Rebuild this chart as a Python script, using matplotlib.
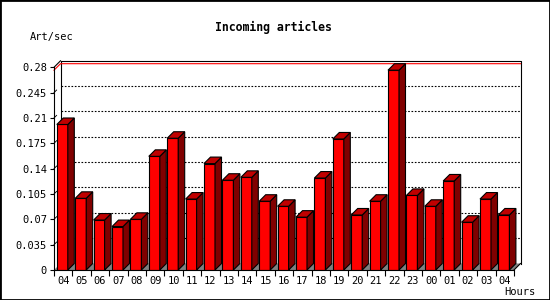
import matplotlib
matplotlib.use("Agg")
import matplotlib.pyplot as plt
from matplotlib.patches import Polygon, Rectangle

# hours on the x axis and incoming rate per hour
hours = ["04", "05", "06", "07", "08", "09", "10", "11", "12", "13", "14", "15", "16",
         "17", "18", "19", "20", "21", "22", "23", "00", "01", "02", "03", "04"]
rates = [0.201, 0.099, 0.069, 0.060, 0.070, 0.157, 0.182, 0.098, 0.147, 0.124, 0.128, 0.095, 0.088,
         0.073, 0.127, 0.181, 0.076, 0.095, 0.276, 0.103, 0.088, 0.123, 0.066, 0.098, 0.076]
yticks = [0, 0.035, 0.07, 0.105, 0.14, 0.175, 0.21, 0.245, 0.28]
ytick_labels = ["0", "0.035", "0.07", "0.105", "0.14", "0.175", "0.21", "0.245", "0.28"]

W, H = 550, 300
fig = plt.figure(figsize=(W / 100, H / 100), dpi=100)
fig.patch.set_facecolor("white")

# front plane of the 3d box, in pixels
left_px, right_px, bottom_px, top_px = 54, 514, 270, 67.3
ax = fig.add_axes([left_px / W, (H - bottom_px) / H,
                   (right_px - left_px) / W, (bottom_px - top_px) / H])
n = len(rates)
ax.set_xlim(-0.5, n - 0.5)
ax.set_ylim(0, 0.28)
ax.patch.set_alpha(0)

# depth of the 3d offset, converted to data units
depth = 6.5
px_x = (right_px - left_px) / n
px_y = (bottom_px - top_px) / 0.28
dx = depth / px_x
dy = depth / px_y
x0, x1 = -0.5, n - 0.5
ymax = 0.28

lw = 0.8
mono = "DejaVu Sans Mono"

# floor
ax.add_patch(Polygon([(x0, 0), (x1, 0), (x1 + dx, dy), (x0 + dx, dy)],
                     closed=True, facecolor="#808080", edgecolor="none", zorder=1, clip_on=False))

# back wall, used to clip the grid lines
wall = Rectangle((x0 + dx, dy), x1 - x0, ymax, transform=ax.transData,
                 facecolor="none", edgecolor="none")
ax.add_patch(wall)
wall.set_clip_on(False)

# back wall grid lines
for v in yticks[1:-1]:
    g, = ax.plot([x0 + dx, x1 + dx], [v + dy, v + dy], color="black", lw=lw,
                 linestyle=(0, (1.5, 1.5)), zorder=1)
    g.set_clip_path(wall)
# back wall frame
ax.plot([x0 + dx, x0 + dx, x1 + dx, x1 + dx], [dy, ymax + dy, ymax + dy, dy],
        color="black", lw=lw, zorder=1, clip_on=False)
ax.plot([x0, x0 + dx], [ymax, ymax + dy], color="black", lw=lw, zorder=1, clip_on=False)
ax.plot([x1, x1 + dx], [0, dy], color="black", lw=lw, zorder=5, clip_on=False)
# small stubs on the left side wall
for v in yticks[1:-1]:
    ax.plot([x0, x0 + dx * 0.4], [v, v + dy * 0.4], color="black", lw=lw * 0.8,
            zorder=1, clip_on=False)

# red line at the maximum
peak = max(rates)
ax.plot([x0, x0 + dx, x1 + dx], [peak, peak + dy, peak + dy], color="red", lw=lw,
        zorder=1.5, clip_on=False)

# bars
off = 2.8 / px_x
bw = 11 / px_x
lefts = [i - 0.5 + off for i in range(n)]
ax.bar(lefts, rates, width=bw, align="edge", color="#ff0000", edgecolor="black",
       linewidth=lw, zorder=3)
for xl, v in zip(lefts, rates):
    xr = xl + bw
    ax.add_patch(Polygon([(xr, 0), (xr + dx, dy), (xr + dx, v + dy), (xr, v)], closed=True,
                         facecolor="#800000", edgecolor="black", lw=lw, zorder=3, clip_on=False))
    ax.add_patch(Polygon([(xl, v), (xr, v), (xr + dx, v + dy), (xl + dx, v + dy)], closed=True,
                         facecolor="#c00000", edgecolor="black", lw=lw, zorder=3, clip_on=False))

# axes
for s in ["top", "right"]:
    ax.spines[s].set_visible(False)
for s in ["left", "bottom"]:
    ax.spines[s].set_linewidth(lw)
    ax.spines[s].set_zorder(6)
ax.set_yticks(yticks)
ax.set_yticklabels(ytick_labels, fontfamily=mono, fontsize=7.5)
ax.tick_params(axis="y", length=3, width=lw, pad=2)
ax.set_xticks([i - 0.5 for i in range(n + 1)])
ax.set_xticklabels([])
ax.tick_params(axis="x", which="major", length=4, width=lw)
ax.set_xticks(list(range(n)), minor=True)
ax.set_xticklabels(hours, minor=True, fontfamily=mono, fontsize=7.5)
ax.tick_params(axis="x", which="minor", length=0, pad=4)

# texts
fig.text(273.5 / W, 1 - 27 / H, "Incoming articles", ha="center", va="center",
         fontfamily=mono, fontweight="bold", fontsize=8.3)
fig.text(30 / W, 1 - 37 / H, "Art/sec", ha="left", va="center", fontfamily=mono, fontsize=7.5)
fig.text(504 / W, 1 - 292 / H, "Hours", ha="left", va="center", fontfamily=mono, fontsize=7.5)

# image border
fig.add_artist(Rectangle((0, 0), 1, 1, transform=fig.transFigure, fill=False,
                         edgecolor="black", lw=2))

fig.savefig("out.png", dpi=100)
